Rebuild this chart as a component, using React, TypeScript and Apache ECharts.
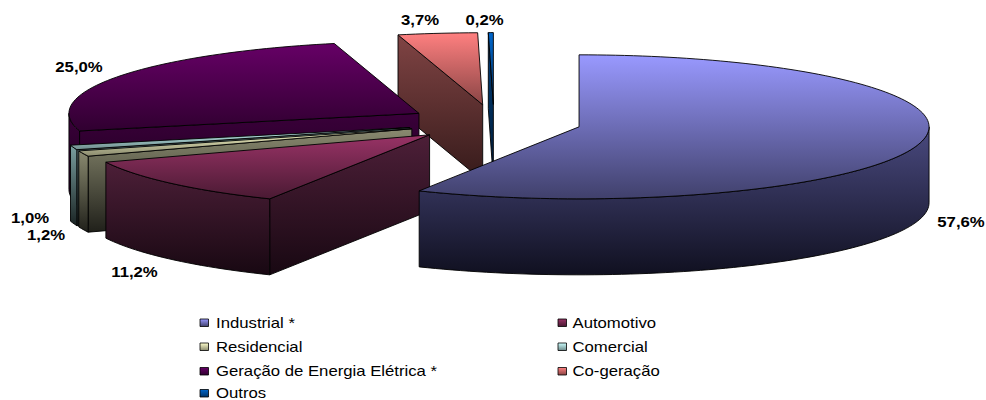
import React, { useEffect, useRef } from "react";
import * as echarts from "echarts";

const categories = ["Industrial *", "Automotivo", "Residencial", "Comercial", "Geração de Energia Elétrica *", "Co-geração", "Outros"];
const shares = [57.55, 11.24, 1.24, 1.04, 25.04, 3.66, 0.23];
const shareLabels = ["57,6%", "11,2%", "1,2%", "1,0%", "25,0%", "3,7%", "0,2%"];

// back-to-front painting order of the slices
const paintOrder = [5, 6, 4, 3, 2, 1, 0];
const labelCentres = [[961, 222], [134.5, 272], [46, 235], [30, 218], [79, 67.5], [420, 20], [484.5, 20]];
const legendColumns = [[0, 2, 4, 6], [1, 3, 5]];
const topFrom = ["#9999FF", "#993366", "#FFFFCC", "#CCFFFF", "#660066", "#FF8080", "#0066CC"];
const topTo = ["#40406B", "#4A1A33", "#8A8A6E", "#6E8A8A", "#300030", "#8A4545", "#003366"];
const sideFrom = ["#4A4A80", "#4D1F38", "#8A8A70", "#7AA0A0", "#3A003A", "#804444", "#004080"];
const sideTo = ["#101020", "#180812", "#20201A", "#1A2424", "#180018", "#351A1A", "#001A33"];

const CX = 494, CY = 122.6, RX = 350, RY = 72, DEPTH = 76, EXPLODE = 87.5;
const FONT = "Liberation Sans";
const STRETCH = 1.195;
const total = 100;
const ROW_Y = [323, 347, 371.5, 393.5];
const COLUMN_X = [200, 558];
const rad = (d: number) => (d * Math.PI) / 180;
const unit = (deg: number) => [Math.sin(rad(deg)), -Math.cos(rad(deg))];
const grad = (a: string, b: string) => new echarts.graphic.LinearGradient(0, 0, 0, 1, [
  { offset: 0, color: a }, { offset: 1, color: b },
]);

function arc(cx: number, cy: number, from: number, to: number) {
  const n = Math.max(2, Math.ceil((to - from) / 1.5));
  const pts: number[][] = [];
  for (let i = 0; i <= n; i++) {
    const u = unit(from + ((to - from) * i) / n);
    pts.push([cx + RX * u[0], cy + RY * u[1]]);
  }
  return pts;
}

function sliceItem(idx: number) {
  return (_: any, api: any) => {
    const value = api.value(0);
    const before = shares.slice(0, idx).reduce((a, b) => a + b, 0);
    const start = (before / total) * 360;
    const end = start + (value / total) * 360;
    const mid = unit((start + end) / 2);
    const ax = CX + EXPLODE * mid[0];
    const ay = CY + (EXPLODE * RY / RX) * mid[1];
    const stroke = { stroke: "#000", lineWidth: 0.9 };
    const children: any[] = [];
    const down = (p: number[]) => [p[0], p[1] + DEPTH];
    const outer = arc(ax, ay, start, end);
    if (start > 180) {
      const p = outer[0];
      children.push({
        type: "polygon",
        shape: { points: [p, [ax, ay], [ax, ay + DEPTH], down(p)] },
        style: { fill: grad(sideFrom[idx], sideTo[idx]), ...stroke },
      });
    }
    const a = Math.max(start, 90), b = Math.min(end, 270);
    if (b > a) {
      const rim = arc(ax, ay, a, b);
      children.push({
        type: "polygon",
        shape: { points: [...rim, ...rim.slice().reverse().map(down)] },
        style: { fill: grad(sideFrom[idx], sideTo[idx]), ...stroke },
      });
    }
    children.push({
      type: "polygon",
      shape: { points: [[ax, ay], ...outer] },
      style: { fill: grad(topFrom[idx], topTo[idx]), ...stroke },
    });
    children.push({
      type: "text",
      x: labelCentres[idx][0],
      y: labelCentres[idx][1],
      scaleX: STRETCH,
      style: {
        x: 0, y: 0,
        text: shareLabels[idx], fill: "#000",
        font: `bold 14px "${FONT}"`, textAlign: "center", textVerticalAlign: "middle",
      },
      z2: 100,
    });
    return { type: "group", children };
  };
}

function legendGraphics() {
  const out: any[] = [];
  legendColumns.forEach((column, c) => {
    column.forEach((i, r) => {
      out.push({
        type: "rect",
        silent: true,
        shape: { x: COLUMN_X[c], y: ROW_Y[r] - 4, width: 8.5, height: 7.5 },
        style: { fill: grad(topFrom[i], topTo[i]), stroke: "#000", lineWidth: 0.8 },
      });
      out.push({
        type: "text",
        silent: true,
        x: COLUMN_X[c] + (c === 0 ? 16 : 14.5),
        y: ROW_Y[r],
        scaleX: STRETCH,
        style: {
          x: 0, y: 0,
          text: categories[i], fill: "#000",
          font: `14px "${FONT}"`, textAlign: "left", textVerticalAlign: "middle",
        },
      });
    });
  });
  return out;
}

export default function App() {
  const ref = useRef<HTMLDivElement>(null);
  useEffect(() => {
    const chart = echarts.init(ref.current!, null, { renderer: "svg" });
    chart.setOption({
      animation: false,
      backgroundColor: "#fff",
      graphic: legendGraphics(),
      series: paintOrder.map((i) => ({
        type: "custom",
        name: categories[i],
        coordinateSystem: "none",
        silent: true,
        data: [[shares[i]]],
        renderItem: sliceItem(i),
      })),
    });
    return () => chart.dispose();
  }, []);
  return <div ref={ref} style={{ position: "fixed", left: 0, top: 0, width: 986, height: 400 }} />;
}
